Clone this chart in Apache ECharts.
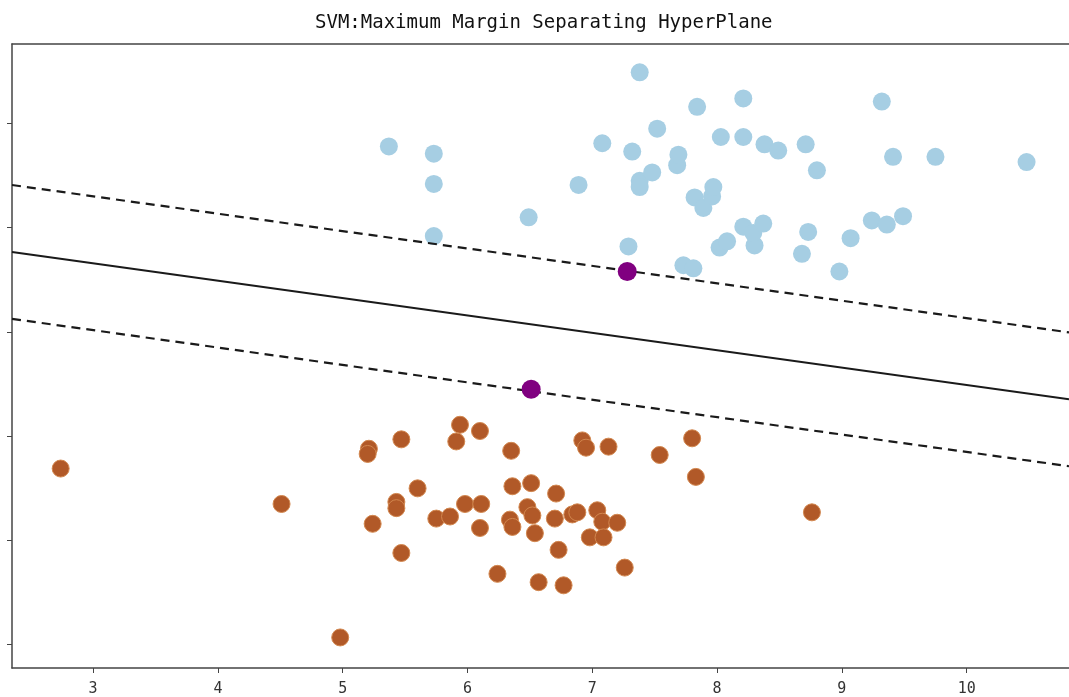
<!DOCTYPE html>
<html>

<head>
    <meta charset="UTF-8">
    <title>SVM:Maximum Margin Separating HyperPlane</title>
    <style>
        html, body { margin: 0; padding: 0; background: #fff; }
        #container { width: 1069px; height: 697px; }
    </style>
</head>

<body>
    <div id="container"></div>
    <script src="https://cdn.jsdelivr.net/npm/echarts@6/dist/echarts.min.js"></script>
    <script>
        // class 0 (light blue)
        var blueX = [5.37, 5.73, 5.73, 5.73, 6.49, 6.89, 7.08, 7.29, 7.32, 7.38, 7.38, 7.38, 7.48, 7.52, 7.68, 7.69,
            7.73, 7.81, 7.82, 7.84, 7.89, 7.96, 7.97, 8.02, 8.08, 8.03, 8.21, 8.21, 8.21, 8.30, 8.29, 8.37,
            8.38, 8.49, 8.71, 8.68, 8.73, 8.80, 8.98, 9.07, 9.24, 9.32, 9.36, 9.41, 9.49, 9.75, 10.48];
        var blueY = [4.78, 4.71, 4.42, 3.92, 4.10, 4.41, 4.81, 3.82, 4.73, 5.49, 4.45, 4.39, 4.53, 4.95, 4.60, 4.70,
            3.64, 3.61, 4.29, 5.16, 4.19, 4.30, 4.39, 3.81, 3.87, 4.87, 5.24, 4.87, 4.01, 3.83, 3.95, 4.04,
            4.80, 4.74, 4.80, 3.75, 3.96, 4.55, 3.58, 3.90, 4.07, 5.21, 4.03, 4.68, 4.11, 4.68, 4.63];

        // class 1 (brown)
        var orangeX = [2.74, 4.51, 4.98, 5.21, 5.20, 5.47, 5.60, 5.43, 5.43, 5.24, 5.47, 5.75, 5.86, 5.94, 5.91, 6.10,
            5.98, 6.11, 6.10, 6.35, 6.36, 6.51, 6.71, 6.34, 6.36, 6.48, 6.52, 6.54, 6.70, 6.84, 6.88, 7.04,
            7.08, 7.20, 6.98, 7.09, 6.73, 6.24, 6.57, 6.77, 7.26, 6.92, 6.95, 7.13, 7.54, 7.80, 7.83, 8.76];
        var orangeY = [1.69, 1.35, 0.07, 1.88, 1.83, 1.97, 1.50, 1.37, 1.31, 1.16, 0.88, 1.21, 1.23, 2.11, 1.95, 2.05,
            1.35, 1.35, 1.12, 1.86, 1.52, 1.55, 1.45, 1.20, 1.13, 1.32, 1.24, 1.07, 1.21, 1.25, 1.27, 1.29,
            1.18, 1.17, 1.03, 1.03, 0.91, 0.68, 0.60, 0.57, 0.74, 1.96, 1.89, 1.90, 1.82, 1.98, 1.61, 1.27];

        // support vectors
        var supportX = [7.28, 6.51];
        var supportY = [3.58, 2.45];

        // separating hyperplane y = intercept + slope * x, margins at +/- margin
        var slope = -0.1669;
        var intercept = 4.160;
        var margin = 0.642;

        var xTicks = [3, 4, 5, 6, 7, 8, 9, 10];
        var yTicks = [0, 1, 2, 3, 4, 5];

        var xMin = 2.35, xMax = 10.82;
        var yMin = -0.223, yMax = 5.762;

        function pairs(xs, ys) {
            return xs.map(function (x, i) { return [x, ys[i]]; });
        }
        function lineAt(offset) {
            return [xMin, xMax].map(function (x) { return [x, intercept + slope * x + offset]; });
        }

        var spine = { onZero: false, lineStyle: { color: '#444', width: 1.5 } };

        var myChart = echarts.init(document.getElementById('container'));
        myChart.setOption({
            animation: false,
            title: {
                text: 'SVM:Maximum Margin Separating HyperPlane',
                left: 315,
                top: 14,
                padding: 0,
                textStyle: {
                    fontFamily: 'DejaVu Sans Mono',
                    fontSize: 19,
                    fontWeight: 'normal',
                    color: '#111'
                }
            },
            grid: {
                left: 12,
                top: 44,
                right: 0,
                bottom: 29
            },
            xAxis: [
                {
                    type: 'value',
                    position: 'bottom',
                    min: xMin,
                    max: xMax,
                    splitLine: { show: false },
                    axisLine: spine,
                    axisTick: { customValues: xTicks, length: 5, lineStyle: { color: '#444' } },
                    axisLabel: {
                        customValues: xTicks,
                        margin: 14,
                        fontFamily: 'DejaVu Sans Mono',
                        fontSize: 15,
                        color: '#333'
                    }
                },
                {
                    type: 'value',
                    position: 'top',
                    min: xMin,
                    max: xMax,
                    splitLine: { show: false },
                    axisLine: spine,
                    axisTick: { show: false },
                    axisLabel: { show: false }
                }
            ],
            yAxis: {
                type: 'value',
                min: yMin,
                max: yMax,
                splitLine: { show: false },
                axisLine: spine,
                axisTick: { customValues: yTicks, length: 5, lineStyle: { color: '#444' } },
                axisLabel: { show: false }
            },
            series: [
                {
                    type: 'line',
                    data: lineAt(0),
                    showSymbol: false,
                    lineStyle: { color: '#1a1a1a', width: 2 }
                },
                {
                    type: 'line',
                    data: lineAt(margin),
                    showSymbol: false,
                    lineStyle: { color: '#1a1a1a', width: 2.2, type: [9, 6] }
                },
                {
                    type: 'line',
                    data: lineAt(-margin),
                    showSymbol: false,
                    lineStyle: { color: '#1a1a1a', width: 2.2, type: [9, 6] }
                },
                {
                    type: 'scatter',
                    data: pairs(blueX, blueY),
                    symbolSize: 18,
                    itemStyle: { color: '#a6cee3', opacity: 1 }
                },
                {
                    type: 'scatter',
                    data: pairs(orangeX, orangeY),
                    symbolSize: 17,
                    itemStyle: { color: '#b15928', opacity: 1, borderColor: '#d2874f', borderWidth: 1 }
                },
                {
                    type: 'scatter',
                    data: pairs(supportX, supportY),
                    symbolSize: 19,
                    z: 5,
                    itemStyle: { color: '#800080', opacity: 1 }
                }
            ]
        });
    </script>
</body>

</html>
